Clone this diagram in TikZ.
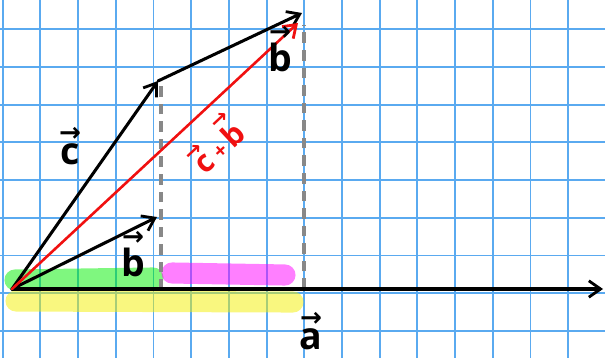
\documentclass[tikz,border=0pt]{standalone}
\usepackage{fontspec}
\setsansfont{Open Sans}
\newfontfamily\arrowfont{DejaVu Sans}
\usepackage{tikz}
\usetikzlibrary{arrows.meta,positioning}
\definecolor{GridBlue}{HTML}{5AAAF0}
\definecolor{DashGray}{HTML}{888888}
\definecolor{InkRed}{HTML}{F01010}
\definecolor{HlGreen}{HTML}{00F000}
\definecolor{HlPink}{HTML}{FF00FF}
\definecolor{HlYellow}{HTML}{F4F000}
\newcommand\vlab[1]{\leavevmode\vbox{\offinterlineskip\halign{\hfil##\hfil\cr
  {\arrowfont\bfseries\fontsize{0.7em}{0.7em}\selectfont →}\cr\noalign{\kern0.06em}#1\cr}}}
\tikzset{
  arrv/.style={-{Straight Barb[length=10pt,width=14pt,line width=2.4pt]},line width=2.6pt,line cap=round},
  hl/.style={line width=18pt,line cap=round,opacity=0.5},
  guide/.style={DashGray,line width=2.6pt,dash pattern=on 9pt off 6pt},
  lbl/.style={font=\sffamily\bfseries\fontsize{32}{34}\selectfont,inner sep=0pt}
}

\begin{document}
\begin{tikzpicture}[x=0.03cm,y=0.03cm]
  \useasboundingbox (0,0) rectangle (605,358);
  \fill[white] (0,0) rectangle (605,358);
  % grid
  \foreach \i in {0,...,15}
    \draw[GridBlue,line width=1.6pt] (2.7+37.7*\i,0) -- (2.7+37.7*\i,358);
  \foreach \j in {0,...,8}
    \draw[GridBlue,line width=1.6pt] (0,27.1+37.7*\j) -- (605,27.1+37.7*\j);

  % points
  \coordinate (O) at (12,69);
  \coordinate (A) at (304,69);
  \coordinate (E) at (603,69);
  \coordinate (B) at (157,141);
  \coordinate (C) at (158,277);
  \coordinate (S) at (302,345);
  \coordinate (R) at (298,335);
  \coordinate (Cf) at (161,68);
  \coordinate (Ct) at (161,273);
  \coordinate (St) at (304,333);

  % highlights
  \draw[hl,HlYellow] (16,57) -- (293,56);
  \draw[hl,HlGreen] (15,78) -- (153,80);
  \draw[hl,HlPink] (172,85) -- (285,83);

  % projections
  \draw[guide] (Cf) -- (Ct);
  \draw[guide] (A) -- (St);

  % vectors
  \draw[arrv] (O) -- (E);
  \draw[arrv] (O) -- (B);
  \draw[arrv] (O) -- (C);
  \draw[arrv] (C) -- (S);
  \draw[arrv,InkRed,line width=2.2pt] (O) -- (R);

  % labels
  \node[lbl] (la) at (311,27) {\vlab{a}};
  \node[lbl] (lb) at (133,104) {\vlab{b}};
  \node[lbl] (lbt) at (280,309) {\vlab{b}};
  \node[lbl] (lc) at (70,212) {\vlab{c}};
  \node[lbl,InkRed,rotate=43,font=\sffamily\bfseries\fontsize{26}{28}\selectfont] (lcb) at (214,215) {\vlab{c}\,{\fontsize{18}{18}\selectfont+}\,\vlab{b}};
\end{tikzpicture}
\end{document}
